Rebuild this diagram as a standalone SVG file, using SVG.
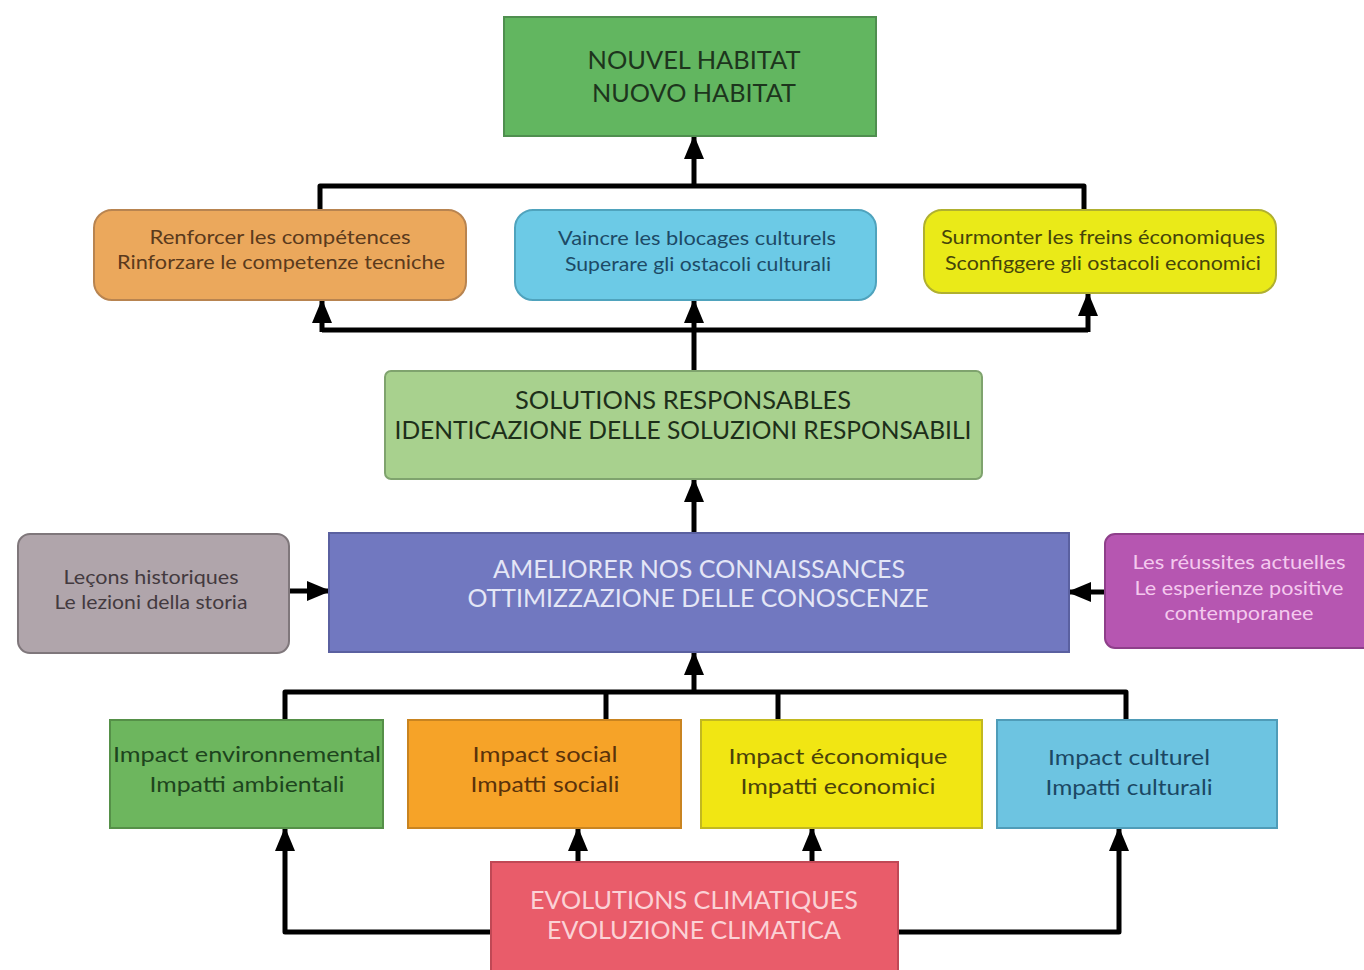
<svg xmlns="http://www.w3.org/2000/svg" width="1364" height="970" viewBox="0 0 1364 970">
<style>
text{font-family:Lato,"Liberation Sans",sans-serif;text-anchor:middle}
.big{font-size:25px}
.sm{font-size:20px}
.md{font-size:22px}
.c{fill:none;stroke:#000;stroke-width:5;stroke-linejoin:round}
.a{marker-end:url(#ah)}
</style>
<defs>
<marker id="ah" viewBox="0 0 24 20" refX="22" refY="10" markerWidth="24" markerHeight="20" markerUnits="userSpaceOnUse" orient="auto">
<path d="M0,0 L24,10 L0,20 z" fill="#000"/>
</marker>
</defs>
<rect width="1364" height="970" fill="#fff"/>
<g id="connectors">
<path class="c" d="M320,212 V186 H1084 V212"/>
<path class="c a" d="M694,188 V137"/>
<path class="c" d="M322,330 H1088"/>
<path class="c a" d="M322,332 V301"/>
<path class="c a" d="M694,372 V301"/>
<path class="c a" d="M1088,332 V294"/>
<path class="c a" d="M694,533 V480"/>
<path class="c a" d="M289,591 H329"/>
<path class="c a" d="M1105,592 H1069"/>
<path class="c" d="M285,720 V692 H1126 V720"/>
<path class="c" d="M606,692 V720"/>
<path class="c" d="M778,692 V720"/>
<path class="c a" d="M694,694 V653"/>
<path class="c a" d="M491,932 H285 V829"/>
<path class="c a" d="M898,932 H1119 V829"/>
<path class="c a" d="M578,862 V829"/>
<path class="c a" d="M812,862 V829"/>
</g>
<g id="n-habitat">
<rect x="504" y="17" width="372" height="119" fill="#62b660" stroke="#4f8f4f" stroke-width="2"/>
<text class="big" x="694" y="69" fill="#1d351d" textLength="213" lengthAdjust="spacingAndGlyphs">NOUVEL HABITAT</text>
<text class="big" x="694" y="102" fill="#1d351d" textLength="204" lengthAdjust="spacingAndGlyphs">NUOVO HABITAT</text>
</g>
<g id="n-competences">
<rect x="94" y="210" width="372" height="90" rx="18" fill="#eba85c" stroke="#b88450" stroke-width="2"/>
<text class="sm" x="280" y="244" fill="#5a3a1c" textLength="261" lengthAdjust="spacingAndGlyphs">Renforcer les compétences</text>
<text class="sm" x="281" y="269" fill="#5a3a1c" textLength="328" lengthAdjust="spacingAndGlyphs">Rinforzare le competenze tecniche</text>
</g>
<g id="n-culturels">
<rect x="515" y="210" width="361" height="90" rx="18" fill="#6ccae6" stroke="#4fa3bd" stroke-width="2"/>
<text class="sm" x="697" y="245" fill="#1d4a66" textLength="278" lengthAdjust="spacingAndGlyphs">Vaincre les blocages culturels</text>
<text class="sm" x="698" y="271" fill="#1d4a66" textLength="266" lengthAdjust="spacingAndGlyphs">Superare gli ostacoli culturali</text>
</g>
<g id="n-economiques">
<rect x="924" y="210" width="352" height="83" rx="18" fill="#eaea18" stroke="#b0b030" stroke-width="2"/>
<text class="sm" x="1103" y="244" fill="#45440a" textLength="324" lengthAdjust="spacingAndGlyphs">Surmonter les freins économiques</text>
<text class="sm" x="1103" y="270" fill="#45440a" textLength="316" lengthAdjust="spacingAndGlyphs">Sconfiggere gli ostacoli economici</text>
</g>
<g id="n-solutions">
<rect x="385" y="371" width="597" height="108" rx="6" fill="#a8d18e" stroke="#7fa36e" stroke-width="2"/>
<text class="big" x="683" y="409" fill="#1d2f1a" textLength="336" lengthAdjust="spacingAndGlyphs">SOLUTIONS RESPONSABLES</text>
<text class="big" x="683" y="439" fill="#1d2f1a" textLength="577" lengthAdjust="spacingAndGlyphs">IDENTICAZIONE DELLE SOLUZIONI RESPONSABILI</text>
</g>
<g id="n-connaissances">
<rect x="329" y="533" width="740" height="119" fill="#7178c0" stroke="#5a60a0" stroke-width="2"/>
<text class="big" x="699" y="578" fill="#e4e6f6" textLength="412" lengthAdjust="spacingAndGlyphs">AMELIORER NOS CONNAISSANCES</text>
<text class="big" x="698" y="607" fill="#e4e6f6" textLength="461" lengthAdjust="spacingAndGlyphs">OTTIMIZZAZIONE DELLE CONOSCENZE</text>
</g>
<g id="n-historiques">
<rect x="18" y="534" width="271" height="119" rx="12" fill="#b0a5ab" stroke="#7f777b" stroke-width="2"/>
<text class="sm" x="151" y="584" fill="#433a3f" textLength="175" lengthAdjust="spacingAndGlyphs">Leçons historiques</text>
<text class="sm" x="151" y="609" fill="#433a3f" textLength="193" lengthAdjust="spacingAndGlyphs">Le lezioni della storia</text>
</g>
<g id="n-reussites">
<rect x="1105" y="534" width="270" height="114" rx="10" fill="#b656b1" stroke="#8e3f8a" stroke-width="2"/>
<text class="sm" x="1239" y="569" fill="#f4c9ee" textLength="213" lengthAdjust="spacingAndGlyphs">Les réussites actuelles</text>
<text class="sm" x="1239" y="595" fill="#f4c9ee" textLength="209" lengthAdjust="spacingAndGlyphs">Le esperienze positive</text>
<text class="sm" x="1239" y="620" fill="#f4c9ee" textLength="149" lengthAdjust="spacingAndGlyphs">contemporanee</text>
</g>
<g id="n-env">
<rect x="110" y="720" width="273" height="108" fill="#6db65e" stroke="#559048" stroke-width="2"/>
<text class="md" x="247" y="762" fill="#1d441d" textLength="268" lengthAdjust="spacingAndGlyphs">Impact environnemental</text>
<text class="md" x="247" y="792" fill="#1d441d" textLength="195" lengthAdjust="spacingAndGlyphs">Impatti ambientali</text>
</g>
<g id="n-social">
<rect x="408" y="720" width="273" height="108" fill="#f6a328" stroke="#c98420" stroke-width="2"/>
<text class="md" x="545" y="762" fill="#5a320a" textLength="145" lengthAdjust="spacingAndGlyphs">Impact social</text>
<text class="md" x="545" y="792" fill="#5a320a" textLength="149" lengthAdjust="spacingAndGlyphs">Impatti sociali</text>
</g>
<g id="n-eco">
<rect x="701" y="720" width="281" height="108" fill="#f1e613" stroke="#c2b820" stroke-width="2"/>
<text class="md" x="838" y="764" fill="#4a420a" textLength="219" lengthAdjust="spacingAndGlyphs">Impact économique</text>
<text class="md" x="838" y="794" fill="#4a420a" textLength="195" lengthAdjust="spacingAndGlyphs">Impatti economici</text>
</g>
<g id="n-cult">
<rect x="997" y="720" width="280" height="108" fill="#6dc4e1" stroke="#4f9cb8" stroke-width="2"/>
<text class="md" x="1129" y="765" fill="#1b4864" textLength="162" lengthAdjust="spacingAndGlyphs">Impact culturel</text>
<text class="md" x="1129" y="795" fill="#1b4864" textLength="167" lengthAdjust="spacingAndGlyphs">Impatti culturali</text>
</g>
<g id="n-climat">
<rect x="491" y="862" width="407" height="112" fill="#e95c6a" stroke="#c04855" stroke-width="2"/>
<text class="big" x="694" y="909" fill="#fbd2d6" textLength="328" lengthAdjust="spacingAndGlyphs">EVOLUTIONS CLIMATIQUES</text>
<text class="big" x="694" y="939" fill="#fbd2d6" textLength="294" lengthAdjust="spacingAndGlyphs">EVOLUZIONE CLIMATICA</text>
</g>
</svg>
